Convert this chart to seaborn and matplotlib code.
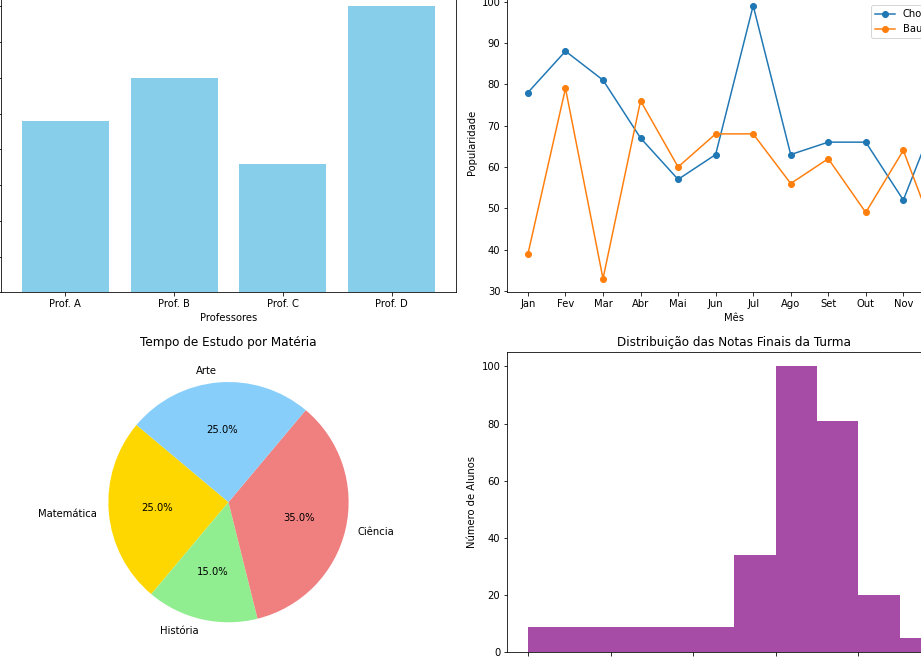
import numpy as np
import pandas as pd
import matplotlib
matplotlib.use("Agg")
import matplotlib.pyplot as plt
import seaborn as sns

# DATA

professores = ['Prof. A', 'Prof. B', 'Prof. C', 'Prof. D']
avaliacao = [48, 60, 36, 80]

meses = ['Jan', 'Fev', 'Mar', 'Abr', 'Mai', 'Jun', 'Jul', 'Ago', 'Set', 'Out', 'Nov', 'Dez']
chocolate = [78, 88, 81, 67, 57, 63, 99, 63, 66, 66, 52, 75]
baunilha = [39, 79, 33, 76, 60, 68, 68, 56, 62, 49, 64, 40]

materias = ['Matemática', 'História', 'Ciência', 'Arte']
tempo_estudo = [25, 15, 35, 25]
cores_materias = ['gold', 'lightgreen', 'lightcoral', 'lightskyblue']

nota_bordas = [0, 5, 6, 7, 8, 9, 10]
nota_contagens = [9, 34, 100, 81, 20, 5]

# LAYOUT (pixel boxes of the cropped 2x2 grid)

W, H = 921, 657


def box(left, top, right, bottom):
    return [left / W, 1 - bottom / H, (right - left) / W, (bottom - top) / H]


fig = plt.figure(figsize=(W / 72, H / 72), dpi=72)
ax_bar = fig.add_axes(box(1, -8.0, 456, 292.3))
ax_line = fig.add_axes(box(507.3, -8.0, 961.5, 292.3))
ax_pie = fig.add_axes(box(1, 352, 456, 652.3))
ax_hist = fig.add_axes(box(507.3, 352, 961.5, 652.3))

# bar chart
sns.barplot(x=professores, y=avaliacao, color='skyblue', saturation=1,
            width=0.8, linewidth=0, ax=ax_bar)
ax_bar.set_xlim(-0.59, 3.59)
ax_bar.set_xlabel('Professores')
ax_bar.set_ylabel('')
# y tick labels fall outside the crop
ax_bar.tick_params(axis='y', labelleft=False)

# line chart
for nome, valores, cor in [('Chocolate', chocolate, '#1f77b4'),
                           ('Baunilha', baunilha, '#ff7f0e')]:
    sns.lineplot(x=meses, y=valores, marker='o', color=cor, sort=False,
                 markeredgecolor=cor, markeredgewidth=1, markersize=6,
                 linewidth=1.5, label=nome, ax=ax_line)
ax_line.set_xlim(-0.55, 11.55)
ax_line.set_xlabel('Mês')
ax_line.set_ylabel('Popularidade')
ax_line.legend(loc='upper right', bbox_to_anchor=(1.0, 0.973))

# pie chart
ax_pie.pie(tempo_estudo, labels=materias, colors=cores_materias,
           autopct='%1.1f%%', startangle=140)
ax_pie.set_title('Tempo de Estudo por Matéria')

# histogram
meios = [(a + b) / 2 for a, b in zip(nota_bordas[:-1], nota_bordas[1:])]
sns.histplot(x=meios, weights=nota_contagens, bins=nota_bordas,
             color='purple', alpha=0.7, linewidth=0, ax=ax_hist)
ax_hist.set_title('Distribuição das Notas Finais da Turma')
ax_hist.set_ylabel('Número de Alunos')
ax_hist.set_xlabel('')
# x tick labels fall below the crop
ax_hist.tick_params(axis='x', labelbottom=False)

fig.savefig('out.png', dpi=72)
